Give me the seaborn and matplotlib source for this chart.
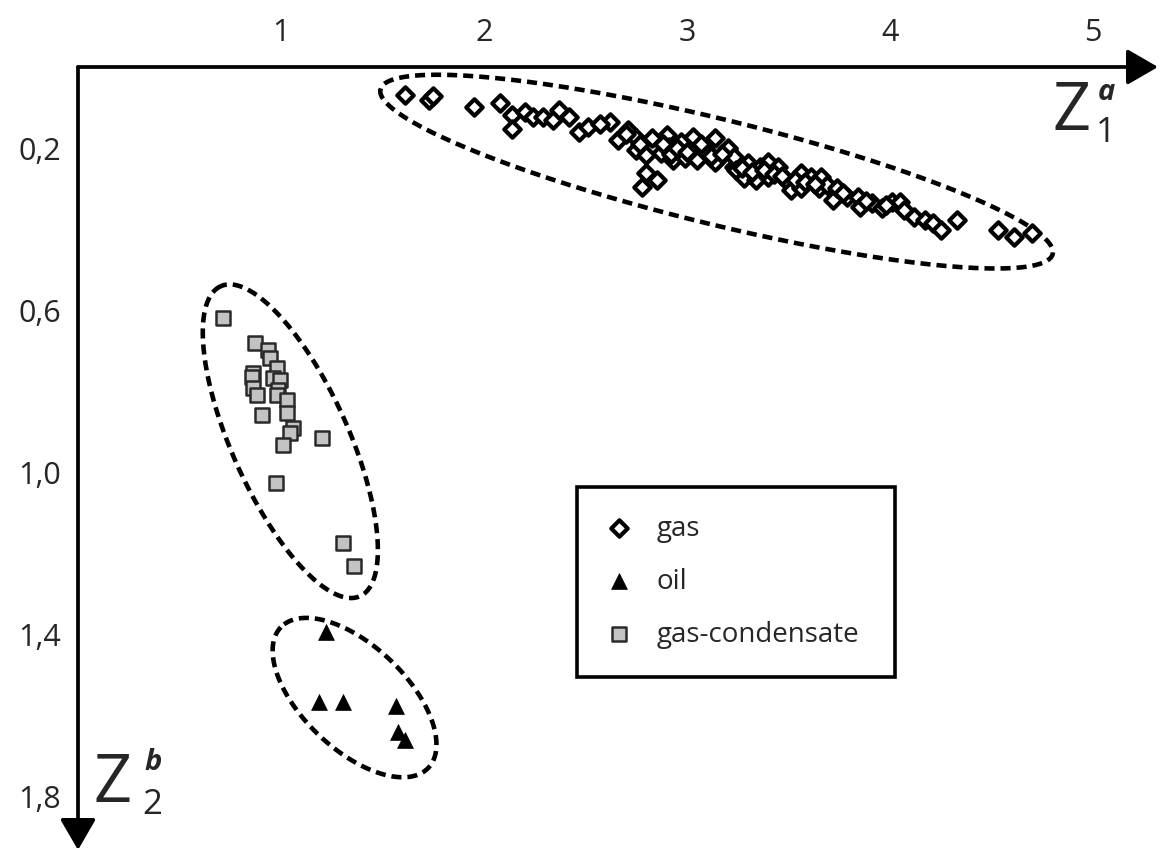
import matplotlib
matplotlib.use("Agg")
import matplotlib.pyplot as plt
import numpy as np
import seaborn as sns

# Z1 / Z2 scores
gas_x = [1.61, 1.73, 1.75, 1.95, 2.08, 2.14, 2.14, 2.20, 2.24, 2.29, 2.34, 2.37, 2.42, 2.47, 2.51,
         2.62, 2.66, 2.71, 2.75, 2.75, 2.80, 2.80, 2.78, 2.85, 2.83, 2.87, 2.90, 2.91, 2.93, 2.97,
         2.99, 3.03, 3.05, 3.09, 3.14, 3.15, 3.20, 3.23, 3.10, 3.14, 3.20, 3.23, 3.24, 3.28, 3.30,
         3.34, 3.36, 3.40, 3.40, 3.45, 3.49, 3.51, 3.56, 3.56, 3.61, 3.65, 3.66, 3.69, 3.72, 3.74,
         3.79, 3.84, 3.85, 3.91, 3.96, 4.01, 4.05, 4.07, 4.12, 4.17, 4.21, 4.25, 4.33, 4.53, 4.61,
         4.70, 2.57, 2.70, 2.77, 2.88, 2.92, 2.95, 3.00, 3.07, 3.12, 3.17, 3.27, 3.32, 3.38, 3.43,
         3.47, 3.53, 3.58, 3.63, 3.77, 3.88, 3.98]
gas_y = [0.069, 0.081, 0.072, 0.099, 0.089, 0.119, 0.153, 0.111, 0.123, 0.123, 0.131, 0.106, 0.123, 0.160, 0.148,
         0.136, 0.180, 0.156, 0.175, 0.205, 0.217, 0.262, 0.296, 0.279, 0.175, 0.212, 0.168, 0.198, 0.230, 0.185,
         0.225, 0.173, 0.230, 0.205, 0.175, 0.230, 0.205, 0.247, 0.210, 0.235, 0.200, 0.222, 0.254, 0.274, 0.237,
         0.279, 0.247, 0.272, 0.235, 0.247, 0.279, 0.304, 0.262, 0.299, 0.272, 0.299, 0.272, 0.291, 0.328, 0.299,
         0.321, 0.321, 0.346, 0.336, 0.348, 0.333, 0.333, 0.353, 0.370, 0.378, 0.385, 0.402, 0.378, 0.402, 0.420,
         0.410, 0.140, 0.165, 0.190, 0.190, 0.215, 0.200, 0.210, 0.190, 0.220, 0.215, 0.250, 0.260, 0.255, 0.265,
         0.270, 0.280, 0.285, 0.290, 0.310, 0.330, 0.340]

oil_x = [1.222, 1.187, 1.305, 1.567, 1.576, 1.611]
oil_y = [1.395, 1.568, 1.568, 1.578, 1.642, 1.662]

cond_x = [0.714, 0.872, 0.936, 0.946, 0.980, 0.862, 0.857, 0.961, 0.995, 0.862, 0.882, 0.985,
          0.980, 1.030, 0.906, 1.030, 1.059, 1.044, 1.010, 1.202, 0.975, 1.305, 1.360]
cond_y = [0.620, 0.681, 0.699, 0.719, 0.743, 0.756, 0.765, 0.768, 0.773, 0.793, 0.810, 0.798,
          0.810, 0.822, 0.859, 0.854, 0.891, 0.904, 0.933, 0.916, 1.027, 1.175, 1.232]

xticks = [1, 2, 3, 4, 5]
yticks = [0.2, 0.6, 1.0, 1.4, 1.8]
ytick_labels = ["0,2", "0,6", "1,0", "1,4", "1,8"]

sns.set_style("white")
plt.rcParams["font.family"] = ["Open Sans", "DejaVu Sans"]

W, H = 1161, 850
fig = plt.figure(figsize=(W / 100, H / 100), dpi=100)
ax = fig.add_axes([78 / W, 0, 1080 / W, 1 - 67 / H])
ax.set_xlim(0, 1080 / 203)
ax.set_ylim(783 / 405, 0)


def outline(ax, xs, ys, pad_major, pad_minor, n=300):
    # dashed envelope around a group, worked out in screen pixels
    pts = ax.transData.transform(np.column_stack([xs, ys]))
    c = pts.mean(axis=0)
    _, vecs = np.linalg.eigh(np.cov((pts - c).T))
    axes_ = vecs[:, ::-1]
    proj = (pts - c) @ axes_
    lo, hi = proj.min(axis=0), proj.max(axis=0)
    mid = (lo + hi) / 2
    half = (hi - lo) / 2 + np.array([pad_major, pad_minor])
    t = np.linspace(0, 2 * np.pi, n)
    ell = np.column_stack([half[0] * np.cos(t), half[1] * np.sin(t)])
    ell = c + (mid + ell) @ axes_.T
    d = ax.transData.inverted().transform(ell)
    ax.plot(d[:, 0], d[:, 1], ls=(0, (2.2, 1.3)), lw=3.3, color="black", zorder=1)


outline(ax, gas_x, gas_y, 25, 20)
outline(ax, cond_x, cond_y, 30, 28)
outline(ax, oil_x, oil_y, 36, 24)

sns.scatterplot(x=gas_x, y=gas_y, ax=ax, marker="D", s=70, color="white",
                edgecolor="black", linewidth=3.0, label="gas", zorder=3)
sns.scatterplot(x=oil_x, y=oil_y, ax=ax, marker="^", s=130, color="black",
                edgecolor="black", linewidth=0.5, label="oil", zorder=3)
sns.scatterplot(x=cond_x, y=cond_y, ax=ax, marker="s", s=115, color="#c3c3c3",
                edgecolor="#2a2a2a", linewidth=1.8, label="gas-condensate", zorder=3)

ax.set_xlabel("")
ax.set_ylabel("")
for sp in ax.spines.values():
    sp.set_visible(False)

arrow = dict(arrowstyle="-|>,head_length=0.95,head_width=0.55", lw=2.7, color="black",
             shrinkA=0, shrinkB=0, mutation_scale=20)
ax.annotate("", xy=(1, 1), xytext=(0, 1), xycoords="axes fraction", arrowprops=arrow,
            annotation_clip=False)
ax.annotate("", xy=(0, 0), xytext=(0, 1), xycoords="axes fraction", arrowprops=arrow,
            annotation_clip=False)

ax.set_xticks(xticks)
ax.set_yticks(yticks)
ax.set_yticklabels(ytick_labels)
ax.tick_params(axis="x", top=True, bottom=False, labeltop=True, labelbottom=False,
               length=0, pad=14, labelsize=22)
ax.tick_params(axis="y", length=0, pad=12, labelsize=22)

# axis names
fig.text(1072 / W, 1 - 112 / H, "Z", fontsize=48, ha="center", va="center")
fig.text(1106 / W, 1 - 133 / H, "1", fontsize=25, ha="center", va="center")
fig.text(1106 / W, 1 - 92 / H, "a", fontsize=21, ha="center", va="center",
         fontweight="bold", fontstyle="italic")
fig.text(113 / W, 1 - 784 / H, "Z", fontsize=48, ha="center", va="center")
fig.text(152 / W, 1 - 805 / H, "2", fontsize=25, ha="center", va="center")
fig.text(153 / W, 1 - 763 / H, "b", fontsize=21, ha="center", va="center",
         fontweight="bold", fontstyle="italic")

leg = ax.legend(loc="upper left", bbox_to_anchor=(577 / W, 173 / H, 318 / W, 190 / H),
                bbox_transform=fig.transFigure, mode="expand", frameon=True, fancybox=False,
                edgecolor="black", framealpha=1, fontsize=20, borderpad=1.0, labelspacing=0.9,
                handletextpad=0.85, borderaxespad=0, handlelength=1.0)
leg.get_frame().set_linewidth(2.6)

fig.savefig("out.png", dpi=100)
